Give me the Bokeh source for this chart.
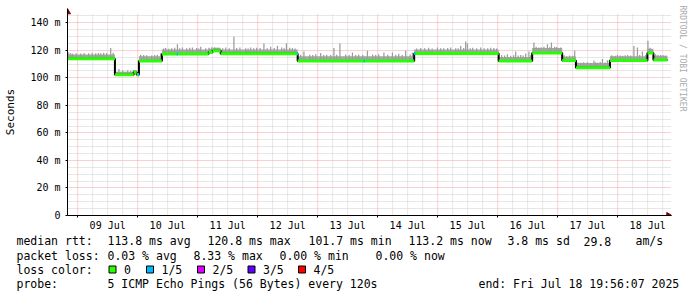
import numpy as np
from bokeh.plotting import figure
from bokeh.layouts import column
from bokeh.models import FixedTicker, Range1d, Title
from bokeh.core.properties import value
from bokeh.embed import file_html
from bokeh.resources import INLINE

# ---------------- data (time in hours since 09 Jul 00:00) ----------------
X0, XEND = -4.07, 235.93
day_labels = ["09 Jul", "10 Jul", "11 Jul", "12 Jul", "13 Jul",
              "14 Jul", "15 Jul", "16 Jul", "17 Jul", "18 Jul"]
y_ticks = [0, 20, 40, 60, 80, 100, 120, 140]
y_tick_labels = ["0", "20 m", "40 m", "60 m", "80 m", "100 m", "120 m", "140 m"]

# median rtt (ms), piecewise constant
seg_start = [-4.07, 14.9, 22.4, 23.6, 24.5, 33.7, 52.4, 54.0, 57.2, 88.0,
             134.6, 168.4, 181.8, 193.8, 199.3, 212.9, 227.9, 230.3]
med_val = [113.8, 102.2, 104.0, 102.2, 112.3, 117.3, 118.5, 119.6, 117.4, 112.3,
           117.6, 112.3, 118.1, 112.5, 107.3, 112.6, 118.1, 113.0]
# top of the dense smoke band per segment (ms)
band_top = [117.0, 104.4, 105.6, 104.4, 115.6, 120.5, 121.2, 121.8, 120.5, 115.7,
            120.6, 115.2, 121.7, 115.5, 110.8, 115.7, 121.2, 116.0]

# smoke spikes: time (h) and max rtt (ms)
spike_t = [-3.6, -2.8, -2.0, -0.6, 1.2, 2.6, 4.4, 5.8, 7.2, 8.3, 9.2, 10.4, 11.6, 13.2, 14.2,
           16.5, 18.0, 20.0, 21.2, 22.3,
           25.2, 26.4, 27.6, 29.6, 30.8, 31.9, 33.2,
           34.4, 35.2, 36.4, 37.6, 38.8, 39.9, 40.8, 41.9, 43.6, 44.8, 45.9, 47.6, 48.4, 49.2, 51.2,
           52.5, 53.6, 54.8, 56.0,
           58.0, 59.2, 60.6, 62.5, 63.6, 64.9, 67.2, 68.2, 69.2, 70.4, 71.6, 73.0, 74.5, 75.8,
           77.2, 78.6, 79.9, 81.6, 82.6, 83.5, 84.8, 85.9, 87.0,
           89.2, 90.5, 92.8, 94.0, 95.2, 97.2, 98.4, 99.6, 101.2, 102.5, 103.6, 104.9, 107.2,
           108.6, 109.9, 111.2, 112.4, 114.0, 115.9, 118.0, 119.2, 120.4, 122.5, 124.0, 125.9,
           127.2, 128.4, 129.8, 131.2, 133.0, 133.9,
           135.6, 137.2, 138.8, 140.4, 141.8, 143.9, 145.2, 146.4, 148.0, 149.2, 151.2, 152.2,
           153.2, 154.4, 155.2, 155.9, 157.0, 158.0, 159.6, 161.2, 162.6, 164.0, 165.2, 166.5, 167.6,
           169.6, 170.8, 171.9, 173.2, 174.4, 175.2, 176.2, 177.2, 178.2, 179.2, 180.5, 181.2,
           182.5, 183.4, 184.4, 185.4, 186.5, 187.9, 188.8, 189.5, 190.8, 191.6, 192.4, 193.2,
           194.6, 195.6, 196.8, 198.0, 198.8,
           200.2, 201.2, 202.4, 203.9, 205.2, 206.5, 207.2, 208.0, 209.0, 209.9, 211.0, 211.9,
           213.6, 214.0, 215.0, 215.9, 217.0, 218.0, 219.0, 220.0, 221.2, 222.5, 223.9, 224.8,
           225.9, 227.2,
           228.1, 228.9, 229.6, 231.2, 232.2, 233.2, 234.2, 235.2]
spike_max = [118.4, 117.8, 117.5, 117.8, 117.6, 118.0, 117.8, 118.2, 117.9, 118.0, 117.8, 118.3, 118.0, 121.6, 118.2,
             106.4, 105.4, 105.3, 104.9, 105.6,
             116.8, 116.5, 116.4, 116.3, 116.6, 116.8, 117.6,
             121.3, 121.6, 121.2, 121.5, 121.8, 124.4, 121.5, 122.0, 121.5, 121.8, 122.0, 121.6, 121.3, 122.5, 121.5,
             121.8, 122.2, 122.0, 121.8,
             121.4, 122.0, 121.4, 129.8, 121.6, 122.0, 121.5, 121.3, 122.0, 121.4, 121.8, 121.6, 124.9, 121.5,
             122.5, 121.7, 123.2, 122.0, 121.5, 125.2, 121.8, 121.6, 121.3,
             116.8, 119.2, 116.8, 116.5, 117.2, 118.0, 116.6, 116.8, 116.5, 121.6, 116.7, 125.0, 117.0,
             116.5, 118.4, 116.6, 116.9, 116.5, 119.7, 117.0, 116.6, 117.2, 118.4, 116.7, 118.4,
             116.8, 117.5, 116.6, 119.7, 116.9, 118.4,
             121.3, 121.6, 121.4, 121.8, 121.3, 122.1, 121.5, 121.5, 121.7, 122.1, 121.5, 121.4,
             123.2, 121.6, 126.4, 124.9, 121.5, 121.8, 121.4, 122.1, 121.5, 121.5, 121.8, 121.6, 121.3,
             116.5, 116.2, 117.2, 116.0, 116.4, 119.2, 116.3, 116.5, 116.2, 117.6, 119.2, 116.4,
             125.7, 122.5, 122.0, 122.3, 122.6, 124.4, 122.2, 125.7, 122.5, 122.4, 121.5, 122.0,
             116.4, 115.5, 116.2, 116.0, 119.7,
             111.2, 111.0, 111.4, 111.3, 110.8, 112.5, 111.3, 111.0, 111.5, 113.7, 111.2, 112.8,
             116.4, 115.5, 116.0, 116.6, 116.2, 116.0, 116.4, 116.5, 116.3, 123.2, 122.0, 116.6,
             119.2, 116.5,
             127.0, 121.8, 120.5, 117.2, 116.5, 116.6, 116.4, 116.0]

# samples with 1/5 packet loss: time (h)
loss1_t = [24.1, 39.6, 87.7, 114.4, 134.7]

# legend texts
rtt_head = "median rtt:"
stats_rtt = ["113.8 ms avg", "120.8 ms max", "101.7 ms min", "113.2 ms now", "3.8 ms sd", "29.8", "am/s"]
loss_head = "packet loss:"
stats_loss = ["0.03 % avg", "8.33 % max", "0.00 % min", "0.00 % now"]
color_head = "loss color:"
loss_labels = ["0", "1/5", "2/5", "3/5", "4/5"]
loss_colors = ["#26ff00", "#00b8ff", "#dd00ff", "#5e00ff", "#ff0000"]
probe_head = "probe:"
probe_text = "5 ICMP Echo Pings (56 Bytes) every 120s"
end_text = "end: Fri Jul 18 19:56:07 2025"
watermark = "RRDTOOL / TOBI OETIKER"

MONO = "DejaVu Sans Mono"
W = 697
H_TOP, H_BOT = 235, 62
FL, FT = 67, 8
FRAME_R = 671
FRAME_B = 215
PX_PER_H = 2.5
PX_PER_MS = 201.0 / 146.0
X1 = XEND + (FRAME_R - 667) / PX_PER_H
Y1 = (FRAME_B - FT) / PX_PER_MS

# ---------------- main chart ----------------
p = figure(width=W, height=H_TOP, output_backend="svg", toolbar_location=None,
           x_range=Range1d(X0, X1), y_range=Range1d(0, Y1),
           min_border_left=FL, min_border_right=W - FRAME_R,
           min_border_top=FT, min_border_bottom=H_TOP - FRAME_B)
p.frame_align = False
p.outline_line_color = None
p.background_fill_color = "white"
p.border_fill_color = "white"

noons = [12 + 24 * i for i in range(10)]
midnights = [24 * i for i in range(10)]
six_h = [6 * i for i in range(40) if i % 4 != 0]
GRAY_GRID = "#cfcfcf"
RED_GRID = "#f0a4a4"

# vertical grid lines (limited to the data area height)
p.xgrid.visible = False
p.segment(x0=six_h, x1=six_h, y0=[0] * len(six_h), y1=[146] * len(six_h),
          line_color=GRAY_GRID, line_dash="1 1", line_width=1)
p.segment(x0=midnights, x1=midnights, y0=[0] * 10, y1=[146] * 10,
          line_color=RED_GRID, line_dash="1 1", line_width=1)
# horizontal grid lines
minor_y = [v for v in range(5, 146, 5) if v % 20 != 0]
p.ygrid.ticker = FixedTicker(ticks=y_ticks, minor_ticks=minor_y)
p.ygrid.grid_line_color = RED_GRID
p.ygrid.grid_line_dash = "1 1"
p.ygrid.minor_grid_line_color = GRAY_GRID
p.ygrid.minor_grid_line_dash = "1 1"

# axes
xa = p.xaxis[0]
xa.ticker = FixedTicker(ticks=noons, minor_ticks=midnights)
xa.major_label_overrides = {t: lab for t, lab in zip(noons, day_labels)}
xa.major_tick_out = 0
xa.major_tick_in = 0
xa.minor_tick_out = 2
xa.minor_tick_in = 0
xa.major_label_standoff = 2
ya = p.yaxis[0]
ya.ticker = FixedTicker(ticks=y_ticks)
ya.major_label_overrides = {t: lab for t, lab in zip(y_ticks, y_tick_labels)}
ya.major_tick_out = 2
ya.major_tick_in = 0
ya.minor_tick_out = 0
ya.minor_tick_in = 0
ya.major_label_standoff = 5
ya.axis_label = "Seconds"
ya.axis_label_text_font = MONO
ya.axis_label_text_font_size = "11px"
ya.axis_label_text_font_style = "normal"
ya.axis_label_text_color = "black"
ya.axis_label_standoff = 10
for a in (xa, ya):
    a.axis_line_color = "black"
    a.major_label_text_font = MONO
    a.major_label_text_font_size = "10px"
    a.major_label_text_color = "black"

# smoke band
seg_end = seg_start[1:] + [XEND]
p.quad(left=seg_start, right=seg_end, bottom=med_val, top=band_top,
       fill_color="#a6a6a6", line_color=None)

# smoke spikes
starts = np.array(seg_start)
meds = np.array(med_val)
idx = np.searchsorted(starts, np.array(spike_t), side="right") - 1
p.vbar(x=spike_t, width=0.5, bottom=meds[idx], top=spike_max,
       fill_color="#9c9c9c", line_color=None)

# median line: black step + loss-coloured horizontal pieces
p.step(x=seg_start + [XEND], y=med_val + [med_val[-1]], mode="after",
       line_color="black", line_width=2)
p.segment(x0=seg_start, x1=seg_end, y0=med_val, y1=med_val,
          line_color=loss_colors[0], line_width=3)
li = np.searchsorted(starts, np.array(loss1_t), side="right") - 1
p.segment(x0=loss1_t, x1=[t + 0.5 for t in loss1_t], y0=meds[li], y1=meds[li],
          line_color=loss_colors[1], line_width=3)

# axis arrow heads
p.scatter(x=[X0], y=[Y1 - 2.6], marker="triangle", size=6,
          fill_color="#800000", line_color="#800000")
p.scatter(x=[X1 - 1.2], y=[0], marker="triangle", angle=-np.pi / 2, size=6,
          fill_color="#800000", line_color="#800000")

# watermark on the right side
p.add_layout(Title(text=watermark, align="left", offset=-3, text_font=MONO,
                   text_font_size="8px", text_font_style="normal",
                   text_color="#aaaaaa", standoff=13), "right")

# ---------------- legend area (pixel coordinates) ----------------
q = figure(width=W, height=H_BOT, output_backend="svg", toolbar_location=None,
           x_range=Range1d(0, W), y_range=Range1d(H_TOP + H_BOT, H_TOP),
           x_axis_type=None, y_axis_type=None,
           min_border_left=0, min_border_right=0, min_border_top=0, min_border_bottom=0)
q.frame_align = False
q.outline_line_color = None
q.xgrid.visible = False
q.ygrid.visible = False
q.background_fill_color = "white"
q.border_fill_color = "white"

rows = [240.7, 255.0, 269.0, 283.3]
tx, ty, tt = [], [], []


def put(text, x, y):
    tx.append(x)
    ty.append(y)
    tt.append(text)


put(rtt_head, 16, rows[0])
for t, x in zip(stats_rtt, [107, 207, 308, 408, 507, 583, 635]):
    put(t, x, rows[0])
put(loss_head, 16, rows[1])
for t, x in zip(stats_loss, [107, 193, 279, 375]):
    put(t, x, rows[1])
put(color_head, 16, rows[2])
box_x = [108.5, 146, 197, 247.5, 298]
for t, bx in zip(loss_labels, box_x):
    put(t, bx + 15, rows[2])
put(probe_head, 16, rows[3])
put(probe_text, 107, rows[3])
put(end_text, 478, rows[3])

q.text(x=tx, y=ty, text=tt, text_font=value(MONO), text_font_size=value("11.5px"),
       text_baseline="middle", text_align="left", text_color="black")
q.rect(x=[b + 3.5 for b in box_x], y=[rows[2]] * 5, width=7, height=7,
       fill_color=loss_colors, line_color="black", line_width=1)

layout = column(p, q, spacing=0)
open("out.html", "w").write(file_html(layout, INLINE))
